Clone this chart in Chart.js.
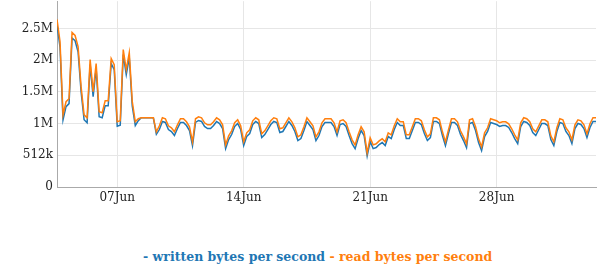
<!DOCTYPE html>
<html>
<head>
<meta charset="utf-8">
<script src="https://cdn.jsdelivr.net/npm/chart.js@4/dist/chart.umd.min.js"></script>
<style>
    body { margin: 0; background: #fff; }
    #wrap { position: relative; width: 603px; height: 270px; overflow: hidden; }
    #box { position: absolute; left: 0; top: -10px; width: 603px; height: 222px; }
    #legend {
        position: absolute; left: 143px; top: 249px;
        font: bold 12.5px "DejaVu Serif", serif; white-space: nowrap;
    }
    .w { color: #1f77b4; }
    .r { color: #ff7f0e; }
</style>
</head>
<body>
<div id="wrap">
    <div id="box"><canvas id="chart"></canvas></div>
    <div id="legend"><span class="w">- written bytes per second</span> <span class="r">- read bytes per second</span></div>
</div>
<script>
// samples every 4 hours starting 03 Jun 16:00, values in KiB/s
const startTime = Date.UTC(2016, 5, 3, 16);
const stepMs = 4 * 3600 * 1000;

const readKiB = [
    2705, 2349, 1166, 1377, 1426, 2495, 2446, 2268, 1620, 1166,
    1118, 2057, 1539, 1993, 1215, 1199, 1393, 1393, 2074, 1976,
    1053, 1069, 2219, 1895, 2171, 1377, 1053, 1102, 1118, 1118,
    1118, 1118, 1118, 891, 988, 1118, 1102, 988, 956, 891,
    1004, 1102, 1102, 1053, 972, 729, 1102, 1134, 1118, 1037,
    1004, 1004, 1053, 1118, 1085, 1004, 680, 826, 907, 1037,
    1085, 988, 729, 875, 923, 1069, 1118, 1085, 859, 907,
    988, 1069, 1118, 1102, 940, 956, 1037, 1118, 1053, 956,
    810, 842, 972, 1118, 1053, 988, 810, 891, 1037, 1102,
    1102, 1102, 1037, 891, 1069, 1085, 1037, 891, 761, 680,
    842, 972, 891, 551, 794, 680, 697, 745, 778, 729,
    875, 842, 988, 1102, 1053, 1053, 842, 842, 972, 1102,
    1102, 1069, 923, 810, 859, 1118, 1118, 1085, 891, 729,
    923, 1102, 1102, 1053, 907, 810, 697, 1085, 1102, 972,
    778, 648, 875, 956, 1102, 1085, 1069, 1037, 1053, 1053,
    1021, 940, 842, 761, 1037, 1118, 1102, 1053, 940, 891,
    988, 1085, 1085, 1053, 826, 729, 956, 1102, 1085, 956,
    891, 761, 1004, 1085, 1069, 1004, 859, 1021, 1118, 1118
];

const writtenKiB = [
    2620, 2260, 1085, 1297, 1346, 2405, 2361, 2183, 1540, 1086,
    1038, 1977, 1459, 1913, 1135, 1119, 1313, 1313, 1994, 1896,
    983, 999, 2139, 1815, 2091, 1307, 993, 1072, 1118, 1118,
    1118, 1118, 1118, 851, 928, 1058, 1042, 928, 896, 831,
    944, 1042, 1042, 993, 912, 669, 1042, 1074, 1058, 977,
    944, 944, 993, 1058, 1025, 944, 620, 766, 847, 977,
    1025, 928, 669, 815, 863, 1009, 1058, 1025, 799, 847,
    928, 1009, 1058, 1042, 880, 896, 977, 1058, 993, 896,
    750, 782, 912, 1058, 993, 928, 750, 831, 977, 1042,
    1042, 1042, 977, 831, 1009, 1025, 977, 831, 701, 620,
    782, 912, 831, 501, 734, 620, 637, 685, 718, 669,
    815, 782, 928, 1042, 993, 993, 782, 782, 912, 1042,
    1042, 1009, 863, 750, 799, 1058, 1058, 1025, 831, 669,
    863, 1042, 1042, 993, 847, 750, 637, 1025, 1042, 912,
    718, 588, 815, 896, 1042, 1025, 1009, 977, 993, 993,
    961, 880, 782, 701, 977, 1058, 1042, 993, 880, 831,
    928, 1025, 1025, 993, 766, 669, 896, 1042, 1025, 896,
    831, 701, 944, 1025, 1009, 944, 799, 961, 1058, 1058
];

const xTickDays = [7, 14, 21, 28];
const yTickKiB = [0, 512, 1024, 1536, 2048, 2560];
const yMaxKiB = 3000;
const monthNames = ['Jan', 'Feb', 'Mar', 'Apr', 'May', 'Jun', 'Jul', 'Aug', 'Sep', 'Oct', 'Nov', 'Dec'];

function toPoints(list) {
    return list.map((v, i) => ({ x: startTime + i * stepMs, y: v * 1024 }));
}

function formatBytes(v) {
    if (v === 0) return '0';
    if (v >= 1048576) return (v / 1048576) + 'M';
    return (v / 1024) + 'k';
}

function formatDay(ms) {
    const d = new Date(ms);
    const day = String(d.getUTCDate()).padStart(2, '0');
    return day + monthNames[d.getUTCMonth()];
}

const tickFont = { family: 'DejaVu Serif', size: 12 };

const ctx = document.getElementById('chart').getContext('2d');
const chart = new Chart(ctx, {
    type: 'line',
    data: {
        datasets: [{
            label: 'written bytes per second',
            data: toPoints(writtenKiB),
            borderColor: '#1f77b4',
            borderWidth: 1.5,
            pointRadius: 0,
            order: 2
        }, {
            label: 'read bytes per second',
            data: toPoints(readKiB),
            borderColor: '#ff7f0e',
            borderWidth: 1.5,
            pointRadius: 0,
            order: 1
        }]
    },
    options: {
        responsive: true,
        maintainAspectRatio: false,
        animation: false,
        layout: { padding: { top: 0, right: 7, left: 0, bottom: 0 } },
        plugins: {
            legend: { display: false },
            tooltip: { enabled: false }
        },
        scales: {
            x: {
                type: 'linear',
                min: startTime,
                max: startTime + (readKiB.length - 1) * stepMs,
                afterBuildTicks: scale => {
                    scale.ticks = xTickDays.map(d => ({ value: Date.UTC(2016, 5, d) }));
                },
                afterFit: scale => { scale.height = 25; },
                ticks: {
                    callback: v => formatDay(v),
                    font: tickFont,
                    color: '#222',
                    padding: 4,
                    maxRotation: 0
                },
                grid: { color: '#e6e6e6', drawTicks: false },
                border: { color: '#aaa', width: 1 }
            },
            y: {
                min: 0,
                max: yMaxKiB * 1024,
                afterBuildTicks: scale => {
                    scale.ticks = yTickKiB.map(k => ({ value: k * 1024 }));
                },
                afterFit: scale => { scale.width = 57; },
                ticks: {
                    callback: v => formatBytes(v),
                    font: tickFont,
                    color: '#222',
                    padding: 4
                },
                grid: { color: '#e6e6e6', drawTicks: false },
                border: { color: '#aaa', width: 1 }
            }
        }
    }
});
</script>
</body>
</html>
